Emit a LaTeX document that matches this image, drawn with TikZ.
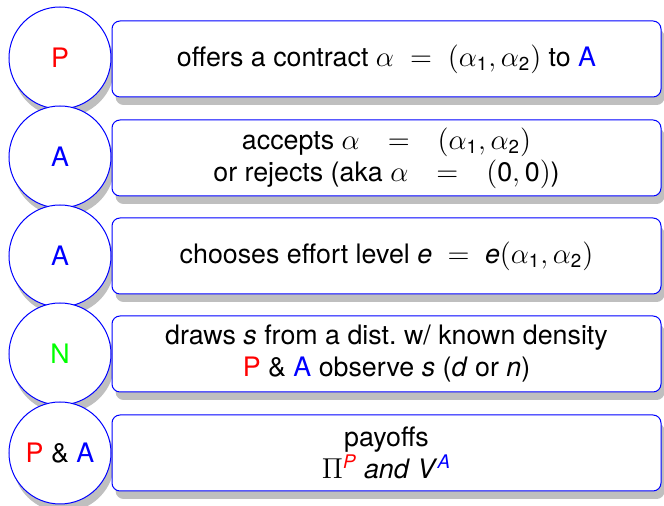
\documentclass[tikz,border=0pt]{standalone}
\usepackage{amsmath}
\usepackage{fontspec}
\setmainfont{TeX Gyre Heros}
\usepackage{xcolor}
\usepackage{tikz}
\usetikzlibrary{shapes.geometric, shadows, positioning}

\newcommand{\sn}[1]{\text{#1}}

\begin{document}
\begin{tikzpicture}[x=0.5pt, y=-0.5pt,
    player/.style={circle, draw=blue, line width=0.5pt, fill=white, minimum size=51pt, inner sep=0pt, font=\fontsize{13.4}{16}\selectfont,
        drop shadow={shadow xshift=1.8pt, shadow yshift=-4pt, opacity=1, fill=black!25}},
    move/.style={rectangle, draw=blue, line width=0.5pt, fill=white, rounded corners=4pt, minimum width=274.5pt, minimum height=38pt, align=center, font=\fontsize{13.4}{16}\selectfont,
        drop shadow={shadow xshift=1.8pt, shadow yshift=-4pt, opacity=1, fill=black!25}}
]
\useasboundingbox (0,0) rectangle (664,506);

% Players
\node[player] (p1) at (60,58) {\textcolor{red}{P}};
\node[player] (p2) at (60,157) {\textcolor{blue}{A}};
\node[player] (p3) at (60,256) {\textcolor{blue}{A}};
\node[player] (p4) at (60,354) {\textcolor{green}{N}};
\node[player] (p5) at (60,453) {\textcolor{red}{P} \& \textcolor{blue}{A}};

% Moves
\node[move] (m1) at (386.5,59) {offers a contract $\alpha\;=\;(\alpha_{\sn{1}},\alpha_{\sn{2}})$ to \textcolor{blue}{A}};
\node[move] (m2) at (386.5,158) {accepts $\alpha\hskip10pt=\hskip10pt(\alpha_{\sn{1}},\alpha_{\sn{2}})$\\or rejects (aka $\alpha\hskip10pt=\hskip10pt(\sn{0},\sn{0})$)};
\node[move] (m3) at (386.5,256) {chooses effort level \textit{e} $\;=\;$ \textit{e}$(\alpha_{\sn{1}},\alpha_{\sn{2}})$};
\node[move] (m4) at (386.5,354) {draws \textit{s} from a dist.\ w/ known density\\\textcolor{red}{P} \& \textcolor{blue}{A} observe \textit{s} (\textit{d} or \textit{n})};
\node[move] (m5) at (386.5,453) {payoffs\\$\Pi^{\textit{\textcolor{red}{P}}}$ \textit{and} \textit{V}$^{\textit{\textcolor{blue}{A}}}$};

\end{tikzpicture}
\end{document}
